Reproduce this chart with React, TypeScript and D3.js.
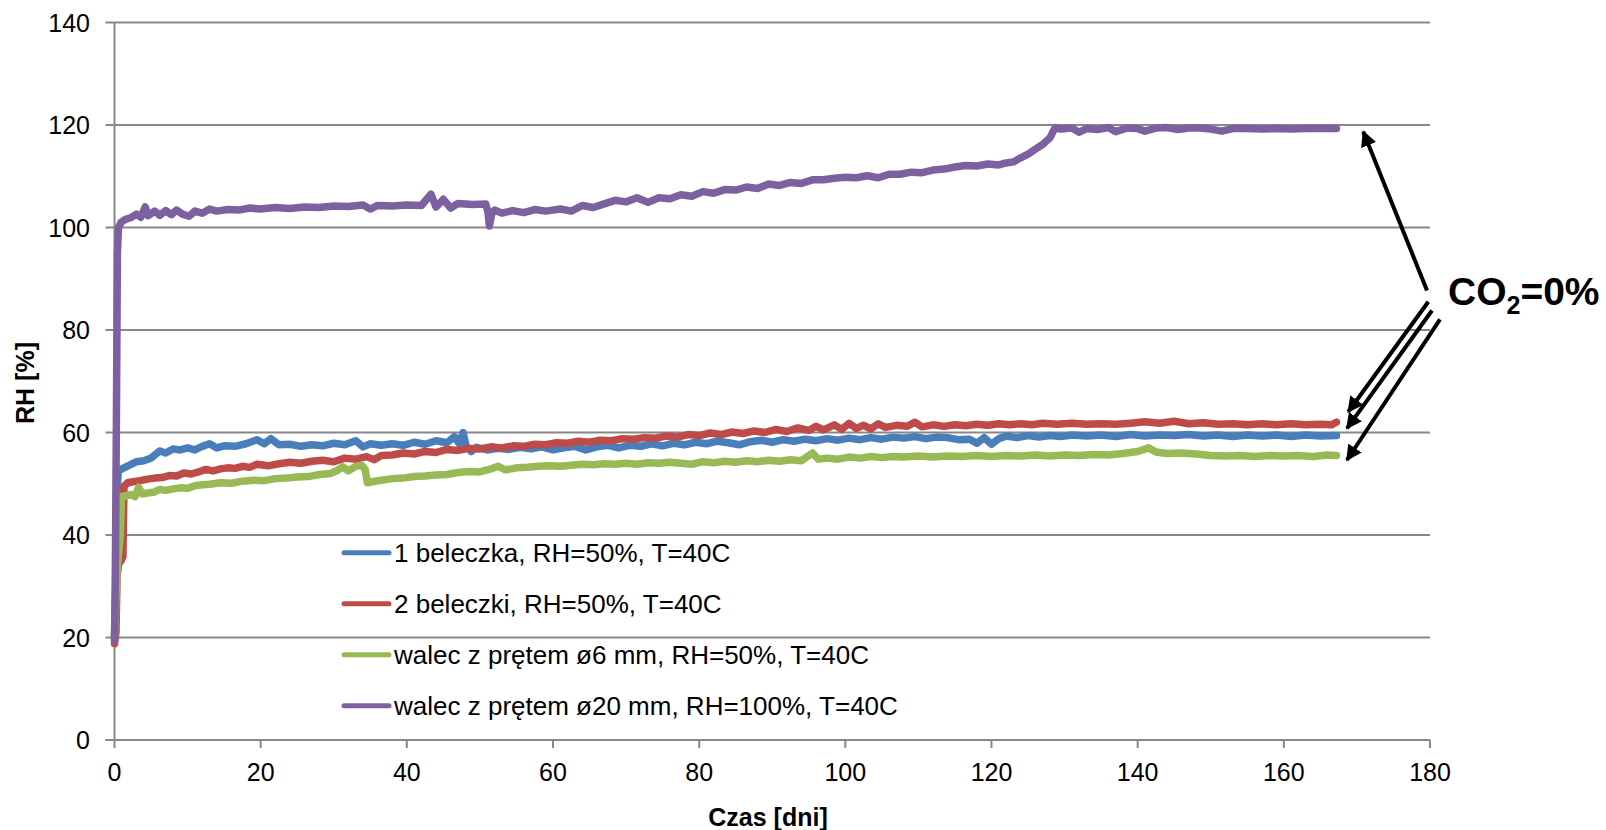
import React from "react";
import * as d3 from "d3";

const xTicks = [0, 20, 40, 60, 80, 100, 120, 140, 160, 180];
const yTicks = [0, 20, 40, 60, 80, 100, 120, 140];

const seriesNames = [
  "1 beleczka, RH=50%, T=40C",
  "2 beleczki, RH=50%, T=40C",
  "walec z prętem \u00f86 mm, RH=50%, T=40C",
  "walec z prętem \u00f820 mm, RH=100%, T=40C",
];
const seriesColors = ["#4a7ebb", "#be4b48", "#98b954", "#7d60a0"];

const blue: [number, number][] = [
  [0, 20], [0.15, 30], [0.3, 45], [0.5, 52.4], [1, 52.9], [2, 53.6], [3, 54.3], [4, 54.5], [5, 55],
  [6.2, 56.4], [7, 56], [8, 56.8], [9, 56.6], [10, 57], [11, 56.6], [12, 57.3], [13, 57.8], [14, 57],
  [15, 57.4], [16.5, 57.3], [18, 57.8], [19.5, 58.6], [20.5, 57.8], [21.4, 58.8], [22.5, 57.6], [24, 57.7],
  [25.5, 57.3], [27, 57.6], [28.5, 57.4], [30, 57.9], [31.5, 57.6], [33, 58.4], [34, 57.2], [35, 57.8],
  [36.5, 57.5], [38, 57.8], [39.5, 57.5], [41, 58.1], [42.5, 57.7], [44, 58.4], [45.5, 58], [46.5, 59.2],
  [47.2, 57.8], [47.7, 60], [48.1, 57.4], [48.8, 56.3], [49.5, 57.1], [51, 56.6], [52.5, 56.9], [54, 56.7],
  [55.5, 57.1], [57, 56.8], [58.5, 57.2], [60, 56.6], [61.5, 57], [63, 57.3], [64.5, 56.6], [66, 57.2],
  [67.5, 57.5], [69, 57], [70.5, 57.5], [72, 57.3], [73.5, 57.8], [75, 57.4], [76.5, 57.9], [78, 57.6],
  [79.5, 58.1], [81, 57.8], [82.5, 58.3], [84, 58], [85.5, 57.6], [87, 58.2], [88.5, 58.5], [90, 58.1],
  [91.5, 58.6], [93, 58.3], [94.5, 58.7], [96, 58.4], [97.5, 58.8], [99, 58.5], [100.5, 58.9], [102, 58.6],
  [103.5, 59], [105, 58.7], [106.5, 59.1], [108, 58.9], [109.5, 59.2], [111, 58.8], [112.5, 59.1], [114, 59],
  [115.5, 58.6], [117, 58.7], [118, 57.9], [119, 59], [120, 57.7], [121, 58.8], [122, 59.3], [123.5, 59],
  [125, 59.4], [126.5, 59.1], [128, 59.4], [129.5, 59.2], [131, 59.5], [133, 59.3], [135, 59.5], [137, 59.2],
  [139, 59.6], [141, 59.3], [143, 59.5], [145, 59.4], [147, 59.6], [149, 59.3], [151, 59.5], [153, 59.2],
  [155, 59.5], [157, 59.3], [159, 59.5], [161, 59.2], [163, 59.5], [165, 59.3], [167.2, 59.4],
];

const red: [number, number][] = [
  [0, 18.8], [0.2, 21], [0.35, 32], [0.6, 34.5], [0.9, 35], [1.15, 35.8], [1.3, 49.5], [1.8, 50.2],
  [2.5, 50.4], [3.5, 50.6], [4.5, 50.9], [5.5, 51.1], [6.5, 51.2], [7.5, 51.6], [8.5, 51.5], [9.5, 52.1],
  [10.5, 51.9], [11.5, 52.3], [12.5, 52.8], [13.5, 52.5], [14.5, 52.9], [15.5, 53.1], [16.5, 53], [17.5, 53.4],
  [18.5, 53.2], [19.5, 53.8], [21, 53.5], [22.5, 53.9], [24, 54.2], [25.5, 54], [27, 54.4], [28.5, 54.6],
  [30, 54.3], [31.5, 55], [33, 54.8], [34.5, 55.3], [35.5, 54.7], [36.5, 55.5], [38, 55.6], [39.5, 56],
  [41, 55.8], [42.5, 56.3], [44, 56.1], [45.5, 56.7], [47, 56.5], [48.5, 56.9], [50, 56.8], [51.5, 57.2],
  [53, 57], [54.5, 57.4], [56, 57.3], [57.5, 57.7], [59, 57.6], [60.5, 58], [62, 57.9], [63.5, 58.3],
  [65, 58.1], [66.5, 58.5], [68, 58.4], [69.5, 58.8], [71, 58.7], [72.5, 59], [74, 58.9], [75.5, 59.3],
  [77, 59.1], [78.5, 59.6], [80, 59.4], [81.5, 59.9], [83, 59.6], [84.5, 60.1], [86, 59.8], [87.5, 60.3],
  [89, 60], [90.5, 60.6], [92, 60.2], [93.5, 60.9], [95, 60.4], [96, 61.2], [97, 60.5], [98.5, 61.5],
  [99.5, 60.6], [100.5, 61.8], [101.5, 60.8], [102.5, 61.4], [103.5, 60.7], [104.5, 61.7], [105.5, 61],
  [107, 61.4], [108.5, 61.2], [109.5, 62], [110.5, 61.1], [112, 61.5], [113.5, 61.2], [115, 61.5],
  [116.5, 61.3], [118, 61.6], [119.5, 61.4], [121, 61.7], [122.5, 61.5], [124, 61.7], [125.5, 61.5],
  [127, 61.8], [129, 61.6], [131, 61.8], [133, 61.6], [135, 61.7], [137, 61.6], [139, 61.8], [141, 62.1],
  [143, 61.8], [145, 62.2], [147, 61.7], [149, 61.9], [151, 61.6], [153, 61.7], [155, 61.5], [157, 61.7],
  [159, 61.5], [161, 61.7], [163, 61.5], [165, 61.6], [166.5, 61.5], [167.2, 62],
];

const green: [number, number][] = [
  [0, 20], [0.2, 28], [0.4, 34], [0.6, 37], [0.8, 40], [0.95, 47.5], [1.5, 47.6], [2.2, 47.9], [2.8, 47.5],
  [3.3, 49.3], [3.8, 48], [4.5, 48.2], [5.5, 48.4], [6.2, 48.9], [7, 48.7], [8, 49], [9, 49.2], [10, 49.1],
  [11, 49.6], [12, 49.8], [13, 49.9], [14.5, 50.2], [16, 50.1], [17.5, 50.5], [19, 50.7], [20.5, 50.6],
  [22, 51], [23.5, 51.1], [25, 51.3], [26.5, 51.4], [28, 51.8], [29.5, 52], [30.5, 52.6], [31.2, 53.3],
  [32, 52.5], [33, 53.4], [33.8, 53.6], [34.3, 52.8], [34.6, 50.2], [35.3, 50.4], [36.5, 50.7], [38, 51],
  [39.5, 51.1], [41, 51.4], [42.5, 51.5], [44, 51.7], [45.5, 51.8], [47, 52.2], [48.5, 52.4], [50, 52.3],
  [51.5, 52.9], [52.5, 53.4], [53.5, 52.7], [55, 53.1], [56.5, 53.2], [58, 53.4], [59.5, 53.5], [61, 53.4],
  [62.5, 53.6], [64, 53.8], [65.5, 53.7], [67, 53.9], [68.5, 53.8], [70, 54], [71.5, 53.8], [73, 54.1],
  [74.5, 54], [76, 54.2], [77.5, 54], [79, 53.8], [80.5, 54.3], [82, 54.1], [83.5, 54.4], [85, 54.2],
  [86.5, 54.5], [88, 54.3], [89.5, 54.6], [91, 54.4], [92.5, 54.7], [94, 54.5], [95.5, 56], [96.3, 54.8],
  [97.5, 55], [99, 54.8], [100.5, 55.2], [102, 55], [103.5, 55.3], [105, 55.1], [106.5, 55.3], [108, 55.2],
  [110, 55.4], [112, 55.2], [114, 55.4], [116, 55.3], [118, 55.5], [120, 55.3], [122, 55.5], [124, 55.4],
  [126, 55.6], [128, 55.4], [130, 55.6], [132, 55.5], [134, 55.7], [136, 55.6], [138, 55.9], [140, 56.3],
  [141.5, 57], [142.5, 56.2], [144, 55.9], [146, 56], [148, 55.8], [150, 55.5], [152, 55.4], [154, 55.5],
  [156, 55.3], [158, 55.5], [160, 55.4], [162, 55.5], [164, 55.3], [166, 55.6], [167.2, 55.5],
];

const purple: [number, number][] = [
  [0, 19.5], [0.1, 30], [0.25, 60], [0.4, 95], [0.55, 100], [0.9, 101], [1.5, 101.6], [2.2, 101.9],
  [3, 102.6], [3.6, 102], [4.2, 104], [4.6, 102.3], [5.5, 103.2], [6.2, 102.4], [7, 103.3], [7.8, 102.5],
  [8.5, 103.4], [9.3, 102.6], [10.2, 102.2], [11, 103.2], [12, 102.8], [13, 103.6], [14, 103.2], [15.5, 103.5],
  [17, 103.4], [18.5, 103.8], [20, 103.6], [22, 103.9], [24, 103.7], [26, 104], [28, 103.9], [30, 104.2],
  [32, 104.1], [34, 104.4], [35, 103.6], [36, 104.3], [38, 104.2], [40, 104.4], [42, 104.3], [43.3, 106.5],
  [44, 104], [45, 105.5], [46, 103.8], [47, 104.7], [49, 104.5], [50.8, 104.6], [51.1, 103], [51.3, 100.3],
  [51.6, 102.6], [52, 103.4], [53, 102.8], [54.5, 103.3], [56, 102.9], [57.5, 103.5], [59, 103.2], [61, 103.6],
  [62.5, 103.2], [64, 104.3], [65.5, 103.9], [67, 104.6], [68.5, 105.3], [70, 105], [71.5, 105.8], [73, 104.9],
  [74.5, 105.8], [76, 105.6], [77.5, 106.4], [79, 106.1], [80.5, 107], [82, 106.7], [83.5, 107.4], [85, 107.3],
  [86.5, 107.9], [88, 107.6], [89.5, 108.5], [91, 108.2], [92.5, 108.8], [94, 108.6], [95.5, 109.3], [97, 109.3],
  [98.5, 109.6], [100, 109.8], [101.5, 109.7], [103, 110.1], [104.5, 109.7], [106, 110.4], [107.5, 110.4],
  [109, 110.8], [110.5, 110.7], [112, 111.2], [113.5, 111.4], [115, 111.8], [116.5, 112.1], [118, 112],
  [119.5, 112.4], [121, 112.2], [122, 112.6], [123, 112.8], [124, 113.6], [125, 114.3], [126, 115.3],
  [127, 116.2], [128, 117.5], [128.7, 119.5], [129.5, 119.2], [131, 119.4], [132, 118.6], [133, 119.3],
  [134.5, 119.1], [136, 119.5], [137, 118.7], [138.5, 119.4], [140, 119.3], [141, 118.8], [142.5, 119.4],
  [144, 119.5], [145.5, 119.1], [147, 119.4], [148.5, 119.4], [150, 119.2], [151.5, 118.8], [153, 119.3],
  [155, 119.3], [157, 119.2], [159, 119.3], [161, 119.2], [163, 119.3], [165, 119.3], [167.2, 119.3],
];

const seriesData = [blue, red, green, purple];

const W = 1606;
const H = 830;
const left = 114.5;
const right = 1430;
const top = 22.5;
const bottom = 740;

export default function App() {
  const x = d3.scaleLinear().domain([0, 180]).range([left, right]);
  const y = d3.scaleLinear().domain([0, 140]).range([bottom, top]);
  const line = d3
    .line<[number, number]>()
    .x((d) => x(d[0]))
    .y((d) => y(d[1]));

  const grid = "#888888";
  const font = "'Liberation Sans', Arial, sans-serif";

  const legendY = [552.7, 603.7, 654.7, 705.7];

  const arrows = [
    { x1: 1427, y1: 290.5, x2: 1363.3, y2: 131.7 },
    { x1: 1428.3, y1: 301.7, x2: 1348.3, y2: 411.7 },
    { x1: 1432, y1: 310.5, x2: 1347, y2: 428.3 },
    { x1: 1440, y1: 319.3, x2: 1347, y2: 460 },
  ];

  return (
    <svg
      width={W}
      height={H}
      style={{ position: "absolute", left: 0, top: 0, background: "#fff" }}
      fontFamily={font}
    >
      <defs>
        <marker
          id="ah"
          viewBox="0 0 10 10"
          refX="9"
          refY="5"
          markerWidth="4"
          markerHeight="4"
          orient="auto"
          markerUnits="strokeWidth"
        >
          <path d="M0,0 L10,5 L0,10 z" fill="#000" />
        </marker>
      </defs>
      <rect x={0} y={0} width={W} height={H} fill="#fff" />
      {yTicks.map((t) => (
        <g key={"y" + t}>
          {t > 0 && (
            <line x1={left} x2={right} y1={y(t)} y2={y(t)} stroke={grid} strokeWidth={2} />
          )}
          <line x1={left - 9} x2={left} y1={y(t)} y2={y(t)} stroke={grid} strokeWidth={2} />
          <text x={90} y={y(t) + 9} textAnchor="end" fontSize={25} fill="#000">
            {t}
          </text>
        </g>
      ))}
      <line x1={left} x2={left} y1={top} y2={bottom} stroke={grid} strokeWidth={2} />
      <line x1={left - 9} x2={right} y1={bottom} y2={bottom} stroke={grid} strokeWidth={2} />
      {xTicks.map((t) => (
        <g key={"x" + t}>
          <line x1={x(t)} x2={x(t)} y1={bottom} y2={bottom + 8} stroke={grid} strokeWidth={2} />
          <text x={x(t)} y={780.5} textAnchor="middle" fontSize={25} fill="#000">
            {t}
          </text>
        </g>
      ))}
      <text
        transform={`translate(${34}, ${383}) rotate(-90)`}
        textAnchor="middle"
        fontSize={25}
        fontWeight="bold"
        fill="#000"
      >
        RH [%]
      </text>
      <text x={768} y={826} textAnchor="middle" fontSize={25} fontWeight="bold" fill="#000">
        Czas [dni]
      </text>

      {seriesData.map((s, i) => (
        <path
          key={"s" + i}
          d={line(s) || ""}
          fill="none"
          stroke={seriesColors[i]}
          strokeWidth={7.5}
          strokeLinejoin="round"
          strokeLinecap="round"
        />
      ))}

      {seriesNames.map((n, i) => (
        <g key={"l" + i}>
          <line
            x1={344}
            x2={389}
            y1={legendY[i]}
            y2={legendY[i]}
            stroke={seriesColors[i]}
            strokeWidth={5}
            strokeLinecap="round"
          />
          <text x={394} y={legendY[i] + 9} fontSize={26} fill="#000">
            {n}
          </text>
        </g>
      ))}

      {arrows.map((a, i) => (
        <line
          key={"a" + i}
          x1={a.x1}
          y1={a.y1}
          x2={a.x2}
          y2={a.y2}
          stroke="#000"
          strokeWidth={4}
          markerEnd="url(#ah)"
        />
      ))}
      <text x={1448} y={305} fontSize={39} fontWeight="bold" fill="#000">
        CO
        <tspan fontSize={25} dy={9}>2</tspan>
        <tspan dy={-9}>=0%</tspan>
      </text>
    </svg>
  );
}
